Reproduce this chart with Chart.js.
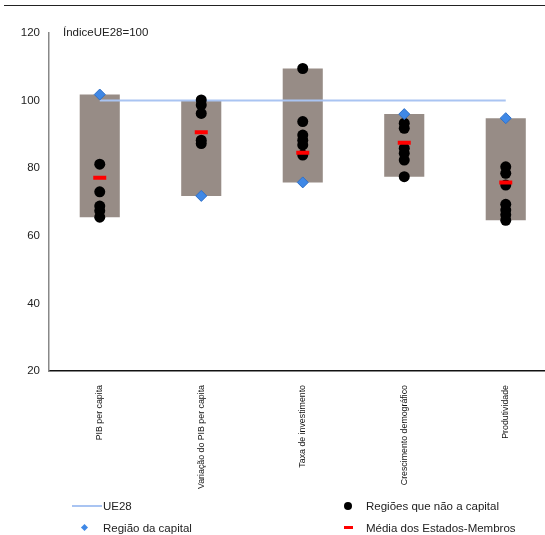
<!DOCTYPE html>
<html>
<head>
<meta charset="utf-8">
<script src="https://cdn.jsdelivr.net/npm/chart.js@4.4.1/dist/chart.umd.min.js"></script>
<style>
  html, body { margin: 0; padding: 0; background: #fff; overflow: hidden; }
  body { width: 545px; height: 535px; position: relative; font-family: "Liberation Sans", Arial, sans-serif; }
  #wrap { position: absolute; left: 0; top: 0; width: 567px; height: 535px; }
  #topRule { position: absolute; left: 4px; right: 0; top: 5px; height: 0; border-top: 1px solid #222; }
  #unit { position: absolute; left: 63px; top: 26px; font-size: 11.5px; color: #222; }
  .leg { position: absolute; font-size: 11.5px; color: #222; line-height: 14px; white-space: nowrap; }
  .sw { position: absolute; }
</style>
</head>
<body>
<div id="topRule"></div>
<div id="wrap"><canvas id="c" width="567" height="535"></canvas></div>
<div id="unit">ÍndiceUE28=100</div>

<!-- legend -->
<div class="sw" style="left:72px; top:505px; width:30px; height:2px; background:#a9c4f2;"></div>
<div class="leg" style="left:103px; top:499px;">UE28</div>
<div class="sw" style="left:82px; top:525px; width:5px; height:5px; background:#3f88e6; transform:rotate(45deg);"></div>
<div class="leg" style="left:103px; top:521px;">Região da capital</div>
<div class="sw" style="left:344px; top:502px; width:8px; height:8px; border-radius:50%; background:#000;"></div>
<div class="leg" style="left:366px; top:499px;">Regiões que não a capital</div>
<div class="sw" style="left:344px; top:526px; width:9px; height:3px; background:#ff0000;"></div>
<div class="leg" style="left:366px; top:521px;">Média dos Estados-Membros</div>

<script>
// Regional indicators, index EU28 = 100
const categories = [
  'PIB per capita',
  'Variação do PIB per capita',
  'Taxa de investimento',
  'Crescimento demográfico',
  'Produtividade'
];
const eu28 = [100, 100, 100, 100, 100];
const capitalRegion = [101.8, 71.8, 75.8, 96.0, 94.8];
const memberStateMean = [77.2, 90.6, 84.6, 87.5, 75.8];

// non-capital regions, one list per indicator
const nonCapitalPIB = [81.2, 73.0, 68.8, 67.4, 65.5];
const nonCapitalVariacao = [100.2, 98.7, 96.2, 88.3, 87.3];
const nonCapitalInvestimento = [109.5, 93.8, 89.8, 88.3, 86.9, 83.9];
const nonCapitalDemografia = [93.3, 91.8, 85.9, 84.4, 82.4, 77.5];
const nonCapitalProdutividade = [80.4, 78.5, 75.0, 69.3, 67.6, 66.2, 64.6];

const yTicks = [20, 40, 60, 80, 100, 120];

const nonCapital = [nonCapitalPIB, nonCapitalVariacao, nonCapitalInvestimento,
                    nonCapitalDemografia, nonCapitalProdutividade];

// range bar spans all regions (capital + others) of each indicator
const ranges = categories.map((c, i) => {
  const all = nonCapital[i].concat([capitalRegion[i]]);
  return [Math.min(...all), Math.max(...all)];
});

const dotPoints = [];
nonCapital.forEach((vals, i) => vals.forEach(v => dotPoints.push({ x: categories[i], y: v })));

const FONT = "'Liberation Sans', Arial, sans-serif";

new Chart(document.getElementById('c'), {
  type: 'bar',
  data: {
    labels: categories,
    datasets: [
      {
        type: 'bar',
        label: 'Intervalo',
        data: ranges,
        backgroundColor: '#978c86',
        borderWidth: 0,
        barPercentage: 0.395,
        categoryPercentage: 1,
        order: 5
      },
      {
        type: 'line',
        label: 'UE28',
        data: eu28,
        borderColor: '#a9c4f2',
        borderWidth: 2,
        pointRadius: 0,
        fill: false,
        order: 4
      },
      {
        type: 'line',
        label: 'Regiões que não a capital',
        data: dotPoints,
        showLine: false,
        pointStyle: 'circle',
        pointRadius: 5.5,
        pointBackgroundColor: '#000',
        pointBorderColor: '#000',
        pointBorderWidth: 0,
        order: 3
      },
      {
        type: 'line',
        label: 'Média dos Estados-Membros',
        data: memberStateMean,
        showLine: false,
        pointStyle: 'line',
        pointRadius: 6.5,
        pointBorderColor: '#ff0000',
        pointBorderWidth: 4,
        order: 2
      },
      {
        type: 'line',
        label: 'Região da capital',
        data: capitalRegion,
        showLine: false,
        pointStyle: 'rectRot',
        pointRadius: 5.5,
        pointBackgroundColor: '#3f88e6',
        pointBorderColor: '#2f70c8',
        pointBorderWidth: 1,
        order: 1
      }
    ]
  },
  options: {
    responsive: false,
    animation: false,
    layout: { padding: { left: 0, right: 4, top: 33, bottom: 0 } },
    plugins: { legend: { display: false }, tooltip: { enabled: false } },
    scales: {
      x: {
        type: 'category',
        offset: true,
        grid: { display: false },
        border: { display: true, color: '#111', width: 1.5 },
        ticks: {
          autoSkip: false,
          minRotation: 90,
          maxRotation: 90,
          padding: 6,
          color: '#111',
          font: { family: FONT, size: 8.8 }
        },
        afterFit: s => { s.height = 164; }
      },
      y: {
        min: 20,
        max: 120,
        grid: { display: false },
        border: { display: true, color: '#888', width: 1.5 },
        afterBuildTicks: s => { s.ticks = yTicks.map(v => ({ value: v })); },
        ticks: {
          padding: 1,
          color: '#222',
          font: { family: FONT, size: 11.5 }
        },
        afterFit: s => { s.width = 49; }
      }
    }
  }
});
</script>
</body>
</html>
